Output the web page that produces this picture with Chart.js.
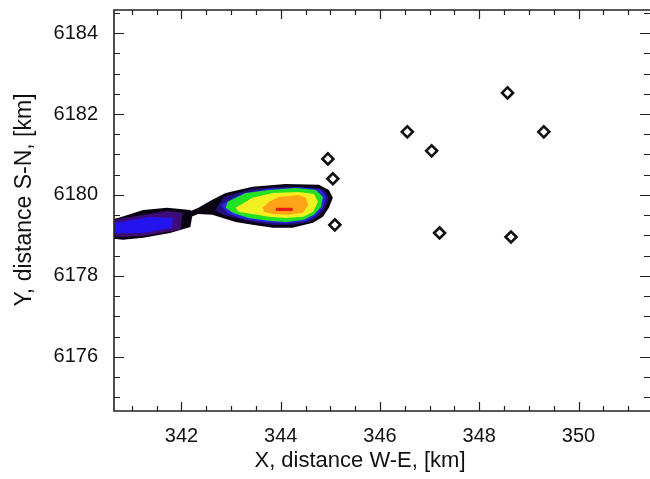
<!DOCTYPE html>
<html><head><meta charset="utf-8">
<script src="https://cdn.jsdelivr.net/npm/chart.js@4/dist/chart.umd.min.js"></script>
<style>html,body{margin:0;padding:0;background:#fff}</style>
</head><body>
<canvas id="c" width="650" height="479"></canvas>
<script>
// ---- axis ticks ----
const xTicks = [342, 344, 346, 348, 350];
const yTicks = [6176, 6178, 6180, 6182, 6184];
const xRange = [340.64, 351.44];
const yRange = [6174.66, 6184.57];
const minorStep = 0.5;
const xTitle = 'X, distance W-E, [km]';
const yTitle = 'Y, distance S-N, [km]';

// ---- stations (diamonds) ----
const stationX = [344.95, 345.05, 345.09, 346.55, 347.04, 347.20, 348.57, 349.30, 348.64];
const stationY = [6180.89, 6180.40, 6179.26, 6181.56, 6181.09, 6179.06, 6182.52, 6181.56, 6178.96];

// ---- contour levels (polygons, [x, y]) ----
const leftOuter = [[340.50,6179.38],[340.72,6179.43],[341.23,6179.63],[341.71,6179.68],[342.18,6179.63],[342.22,6179.51],[342.18,6179.21],[341.77,6179.06],[341.23,6178.94],[340.82,6178.89],[340.50,6178.94]];
const leftMid = [[340.50,6179.33],[340.76,6179.41],[341.71,6179.60],[342.02,6179.56],[341.98,6179.14],[341.23,6178.99],[340.72,6178.96],[340.50,6178.99]];
const leftCore = [[340.50,6179.28],[341.37,6179.46],[341.83,6179.43],[341.81,6179.19],[341.23,6179.06],[340.50,6179.06]];
const rightOuter = [[342.14,6179.58],[342.34,6179.68],[342.62,6179.88],[342.89,6180.05],[343.43,6180.20],[344.10,6180.27],[344.77,6180.25],[344.97,6180.12],[345.05,6179.93],[344.97,6179.68],[344.85,6179.46],[344.65,6179.31],[344.24,6179.19],[343.84,6179.19],[343.43,6179.26],[343.09,6179.33],[342.83,6179.43],[342.62,6179.51],[342.34,6179.53],[342.14,6179.43]];
const rightNavy = [[342.68,6179.63],[342.85,6179.95],[343.43,6180.15],[344.10,6180.20],[344.75,6180.17],[344.91,6180.07],[344.97,6179.90],[344.87,6179.63],[344.75,6179.46],[344.57,6179.33],[344.24,6179.26],[343.84,6179.26],[343.43,6179.33],[343.09,6179.43],[342.83,6179.51]];
const rightBlue = [[342.79,6179.75],[343.19,6180.02],[343.76,6180.15],[344.40,6180.19],[344.81,6180.13],[344.91,6179.95],[344.85,6179.68],[344.71,6179.49],[344.49,6179.35],[344.10,6179.30],[343.70,6179.33],[343.29,6179.40],[342.95,6179.53]];
const rightGreen = [[342.93,6179.83],[343.29,6180.05],[343.76,6180.12],[344.30,6180.17],[344.71,6180.12],[344.85,6179.95],[344.81,6179.70],[344.67,6179.51],[344.45,6179.38],[344.10,6179.33],[343.76,6179.36],[343.35,6179.43],[343.03,6179.56],[342.89,6179.68]];
const rightYellow = [[343.09,6179.68],[343.43,6179.93],[343.84,6180.05],[344.36,6180.07],[344.67,6180.02],[344.75,6179.83],[344.65,6179.58],[344.45,6179.46],[344.10,6179.43],[343.76,6179.46],[343.43,6179.53],[343.15,6179.58]];
const rightOrange = [[343.64,6179.68],[343.76,6179.83],[343.96,6179.95],[344.36,6180.00],[344.51,6179.93],[344.55,6179.75],[344.45,6179.56],[344.16,6179.51],[343.84,6179.53],[343.66,6179.58]];
const rightRed = [[343.90,6179.68],[344.24,6179.68],[344.24,6179.60],[343.90,6179.60]];

const polys = [
  [leftOuter, '#0a0210', 20], [leftMid, '#3e0c78', 19], [leftCore, '#2414f0', 18],
  [rightOuter, '#0a0210', 17], [rightNavy, '#22107e', 16], [rightBlue, '#2a26e6', 15],
  [rightGreen, '#22e022', 14], [rightYellow, '#f2f020', 13], [rightOrange, '#ffa416', 12],
  [rightRed, '#e81a14', 11]
];

const FONT = '"Liberation Sans", Arial, Helvetica, sans-serif';

const datasets = polys.map(([pts, color, ord]) => ({
  data: pts.map(p => ({x: p[0], y: p[1]})),
  showLine: true, fill: 'shape', backgroundColor: color, borderWidth: 0,
  pointRadius: 0, pointHoverRadius: 0, tension: 0, order: ord
}));
datasets.push({
  data: stationX.map((x, i) => ({x, y: stationY[i]})),
  showLine: false, pointStyle: 'rectRot', pointRadius: 5.5, pointHoverRadius: 5.5,
  borderWidth: 2.6, borderColor: '#111', backgroundColor: '#fff', order: 0
});

const frame = {
  id: 'frame',
  afterDatasetsDraw(chart) {
    const {ctx, chartArea: a, scales: {x, y}} = chart;
    ctx.save();
    ctx.strokeStyle = '#222';
    ctx.lineWidth = 1.6;
    ctx.beginPath();
    ctx.moveTo(a.right, a.top); ctx.lineTo(a.left, a.top); ctx.lineTo(a.left, a.bottom); ctx.lineTo(a.right, a.bottom);
    ctx.stroke();
    ctx.lineWidth = 1.2;
    ctx.beginPath();
    for (let v = Math.ceil(x.min / minorStep) * minorStep; v <= x.max; v += minorStep) {
      const px = Math.round(x.getPixelForValue(v)) + 0.5;
      const len = xTicks.includes(v) ? 9 : 5;
      ctx.moveTo(px, a.bottom); ctx.lineTo(px, a.bottom - len);
      ctx.moveTo(px, a.top); ctx.lineTo(px, a.top + len);
    }
    for (let v = Math.ceil(y.min / minorStep) * minorStep; v <= y.max; v += minorStep) {
      const py = Math.round(y.getPixelForValue(v)) + 0.5;
      const len = yTicks.includes(v) ? 10 : 6;
      ctx.moveTo(a.left, py); ctx.lineTo(a.left + len, py);
      ctx.moveTo(a.right, py); ctx.lineTo(a.right - len, py);
    }
    ctx.stroke();
    ctx.fillStyle = '#111';
    ctx.textAlign = 'center';
    ctx.textBaseline = 'middle';
    ctx.font = '22px ' + FONT;
    ctx.fillText(xTitle, 360, 461);
    ctx.translate(25, 200);
    ctx.rotate(-Math.PI / 2);
    ctx.font = '23px ' + FONT;
    ctx.fillText(yTitle, 0, 0);
    ctx.restore();
  }
};

new Chart(document.getElementById('c'), {
  type: 'scatter',
  data: {datasets},
  plugins: [frame],
  options: {
    responsive: false, animation: false, devicePixelRatio: 1,
    layout: {autoPadding: false, padding: {top: 10, right: 0, bottom: 0, left: 0}},
    plugins: {legend: {display: false}, tooltip: {enabled: false}},
    scales: {
      x: {
        type: 'linear', min: xRange[0], max: xRange[1],
        grid: {display: false, drawTicks: false}, border: {display: false},
        afterBuildTicks: s => { s.ticks = xTicks.map(v => ({value: v})); },
        afterFit: s => { s.height = 68; s.paddingLeft = 0; s.paddingRight = 0; },
        ticks: {color: '#111', font: {family: FONT, size: 20}, padding: 13, maxRotation: 0, autoSkip: false,
                callback: v => String(v)}
      },
      y: {
        type: 'linear', min: yRange[0], max: yRange[1],
        grid: {display: false, drawTicks: false}, border: {display: false},
        afterBuildTicks: s => { s.ticks = yTicks.map(v => ({value: v})); },
        afterFit: s => { s.width = 114; s.paddingTop = 0; s.paddingBottom = 0; },
        ticks: {color: '#111', font: {family: FONT, size: 20}, padding: 16, autoSkip: false,
                callback: v => String(v)}
      }
    }
  }
});
</script>
</body></html>
